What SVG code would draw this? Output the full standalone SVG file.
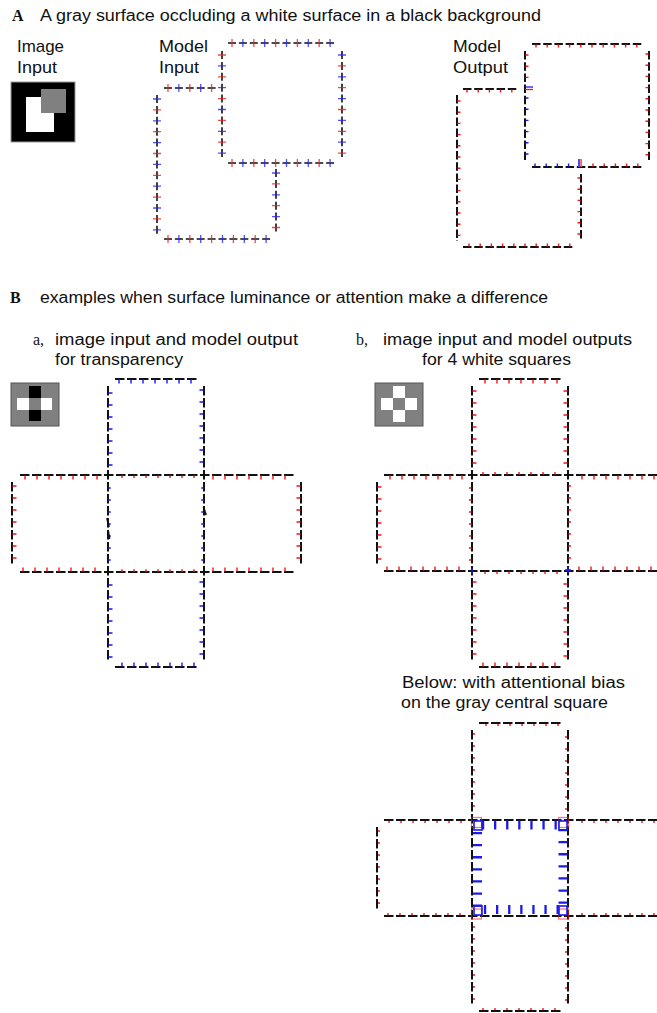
<svg xmlns="http://www.w3.org/2000/svg" width="657" height="1013" viewBox="0 0 657 1013">
<style>
text{font-family:"Liberation Sans",Arial,sans-serif;fill:#111}
.sf{font-family:"Liberation Serif","Times New Roman",serif}
line{fill:none}
.ka{stroke:#111;stroke-width:1.6;stroke-dasharray:8 2.9}
.ko{stroke:#111;stroke-width:2;stroke-dasharray:8.5 2.7}
.kb{stroke:#111;stroke-width:2;stroke-dasharray:9.5 2.5}
.pr{stroke:#f21c1c;stroke-width:8;stroke-dasharray:1.3 20.5;opacity:.8}
.pb{stroke:#2626f5;stroke-width:8;stroke-dasharray:1.3 20.5;opacity:.8}
.tr{stroke:#f01818;stroke-width:3;stroke-dasharray:1.4 9.8}
.tb{stroke:#1818f0;stroke-width:3;stroke-dasharray:1.4 9.8}
.br{stroke:#f01818;stroke-width:4;stroke-dasharray:1.4 10.6}
.bb{stroke:#1818f0;stroke-width:4;stroke-dasharray:1.4 10.6}
.sr{stroke:#f01818;stroke-width:2.5;stroke-dasharray:1.4 10.6}
.sb{stroke:#1818f0;stroke-width:2.5;stroke-dasharray:1.4 10.6}
.dr{stroke:#f01818;stroke-width:2;stroke-dasharray:1.4 10.6}
.bg{stroke:#1a1aee;stroke-width:9;stroke-dasharray:2.3 9.8}
.bx{fill:none;stroke:#1a1aee;stroke-width:1.6}
.rx{fill:none;stroke:#f01818;stroke-width:1.2;opacity:.6}
</style>
<rect x="0" y="0" width="657" height="1013" fill="#fff"/>

<g id="titles">
<text class="sf" x="12" y="21" font-size="16" font-weight="bold">A</text>
<text x="40" y="21" font-size="16" textLength="501" lengthAdjust="spacingAndGlyphs">A gray surface occluding a white surface in a black background</text>
<text x="17" y="52" font-size="17" textLength="47" lengthAdjust="spacingAndGlyphs">Image</text>
<text x="17" y="73" font-size="17" textLength="40" lengthAdjust="spacingAndGlyphs">Input</text>
<text x="159" y="52" font-size="17" textLength="49" lengthAdjust="spacingAndGlyphs">Model</text>
<text x="159" y="73" font-size="17" textLength="40" lengthAdjust="spacingAndGlyphs">Input</text>
<text x="453" y="52" font-size="17" textLength="48" lengthAdjust="spacingAndGlyphs">Model</text>
<text x="453" y="73" font-size="17" textLength="55" lengthAdjust="spacingAndGlyphs">Output</text>
<text class="sf" x="10" y="303" font-size="16" font-weight="bold">B</text>
<text x="40" y="303" font-size="16" textLength="508" lengthAdjust="spacingAndGlyphs">examples when surface luminance or attention make a difference</text>
<text class="sf" x="33" y="345" font-size="16">a,</text>
<text x="55" y="345" font-size="16" textLength="243" lengthAdjust="spacingAndGlyphs">image input and model output</text>
<text x="55" y="365" font-size="16" textLength="128" lengthAdjust="spacingAndGlyphs">for transparency</text>
<text class="sf" x="356" y="345" font-size="16">b,</text>
<text x="383" y="345" font-size="16" textLength="249" lengthAdjust="spacingAndGlyphs">image input and model outputs</text>
<text x="422" y="365" font-size="16" textLength="149" lengthAdjust="spacingAndGlyphs">for 4 white squares</text>
<text x="402" y="688" font-size="16" textLength="223" lengthAdjust="spacingAndGlyphs">Below: with attentional bias</text>
<text x="401" y="708" font-size="16" textLength="207" lengthAdjust="spacingAndGlyphs">on the gray central square</text>
</g>

<g id="imageA">
<rect x="11" y="82" width="64" height="60" fill="#000" stroke="#999" stroke-width="1"/>
<rect x="26" y="97" width="28" height="35" fill="#fff"/>
<rect x="41" y="89" width="25" height="24" fill="#808080"/>
</g>

<g id="modelInputA">
<line class="ka" x1="228" y1="43" x2="334.2" y2="43"/>
<line class="pr" x1="231.35" y1="43" x2="334" y2="43"/>
<line class="pb" x1="242.25" y1="43" x2="334" y2="43"/>
<line class="ka" x1="228" y1="163" x2="334.2" y2="163"/>
<line class="pr" x1="231.35" y1="163" x2="334" y2="163"/>
<line class="pb" x1="242.25" y1="163" x2="334" y2="163"/>
<line class="ka" x1="222" y1="51" x2="222" y2="157.1"/>
<line class="pr" x1="222" y1="54.35" x2="222" y2="157"/>
<line class="pb" x1="222" y1="65.25" x2="222" y2="157"/>
<line class="ka" x1="342" y1="51" x2="342" y2="157.1"/>
<line class="pb" x1="342" y1="54.35" x2="342" y2="157"/>
<line class="pr" x1="342" y1="65.25" x2="342" y2="157"/>
<line class="ka" x1="164" y1="88" x2="215.6" y2="88"/>
<line class="pr" x1="167.35" y1="88" x2="215" y2="88"/>
<line class="pb" x1="178.25" y1="88" x2="215" y2="88"/>
<line class="ka" x1="157" y1="95" x2="157" y2="233.8"/>
<line class="pb" x1="157" y1="98.35" x2="157" y2="233"/>
<line class="pr" x1="157" y1="109.25" x2="157" y2="233"/>
<line class="ka" x1="276" y1="169" x2="276" y2="231.5"/>
<line class="pb" x1="276" y1="172.35" x2="276" y2="231"/>
<line class="pr" x1="276" y1="183.25" x2="276" y2="231"/>
<line class="ka" x1="164" y1="239" x2="270.1" y2="239"/>
<line class="pr" x1="167.35" y1="239" x2="270" y2="239"/>
<line class="pb" x1="178.25" y1="239" x2="270" y2="239"/>
</g>

<g id="modelOutputA">
<line class="ko" x1="532" y1="44" x2="642" y2="44"/>
<line class="tr" x1="535.3" y1="46" x2="642" y2="46"/>
<line class="ko" x1="525" y1="51" x2="525" y2="160"/>
<line class="tr" x1="527" y1="54.3" x2="527" y2="80"/>
<line x1="525" y1="87" x2="533" y2="87" stroke="#1818f0" stroke-width="1.3"/>
<line x1="525" y1="89.5" x2="533" y2="89.5" stroke="#f01818" stroke-width="1.3"/>
<line class="tb" x1="527" y1="97.3" x2="527" y2="160"/>
<line class="ko" x1="649" y1="51" x2="649" y2="160"/>
<line class="tr" x1="647" y1="53.3" x2="647" y2="160"/>
<line class="ko" x1="532" y1="167" x2="642" y2="167"/>
<line class="tb" x1="534.3" y1="165" x2="572" y2="165"/>
<rect x="578" y="159" width="2" height="8" fill="#4a4af5"/>
<rect x="580.3" y="159" width="1.6" height="8" fill="#f05050"/>
<line class="tr" x1="592.3" y1="165" x2="642" y2="165"/>
<line class="ko" x1="463" y1="89" x2="517" y2="89"/>
<line class="tr" x1="466.3" y1="91" x2="517" y2="91"/>
<line class="ko" x1="457" y1="95" x2="457" y2="241"/>
<line class="tr" x1="459" y1="100.3" x2="459" y2="241"/>
<line class="ko" x1="581" y1="174" x2="581" y2="241"/>
<line class="tr" x1="579" y1="177.3" x2="579" y2="241"/>
<line class="ko" x1="463" y1="247" x2="575" y2="247"/>
<line class="tr" x1="468.3" y1="245" x2="575" y2="245"/>
</g>

<g id="imageBa">
<rect x="11" y="383" width="48" height="43" fill="#808080" stroke="#555" stroke-width="1"/>
<rect x="29" y="386" width="12" height="35" fill="#000"/>
<rect x="17" y="398" width="35" height="12" fill="#fff"/>
<rect x="29" y="398" width="12" height="12" fill="#808080"/>
</g>

<g id="crossBa">
<line class="kb" x1="108" y1="386" x2="108" y2="661"/>
<line class="kb" x1="204" y1="386" x2="204" y2="661"/>
<line class="kb" x1="20" y1="475" x2="294" y2="475"/>
<line class="kb" x1="20" y1="572" x2="294" y2="572"/>
<line class="kb" x1="115" y1="379" x2="198" y2="379"/>
<line class="kb" x1="115" y1="667" x2="198" y2="667"/>
<line class="kb" x1="12" y1="482" x2="12" y2="565"/>
<line class="kb" x1="301" y1="482" x2="301" y2="565"/>
<line class="bb" x1="118.3" y1="381.5" x2="198" y2="381.5"/>
<line class="bb" x1="110.5" y1="392.3" x2="110.5" y2="466"/>
<line class="bb" x1="201.5" y1="389.3" x2="201.5" y2="466"/>
<line class="br" x1="24.3" y1="477.5" x2="100" y2="477.5"/>
<line class="br" x1="14.5" y1="485.3" x2="14.5" y2="562"/>
<line class="br" x1="22.3" y1="569.5" x2="100" y2="569.5"/>
<line class="br" x1="212.3" y1="477.5" x2="295" y2="477.5"/>
<line class="br" x1="298.5" y1="485.3" x2="298.5" y2="562"/>
<line class="br" x1="212.3" y1="569.5" x2="295" y2="569.5"/>
<line class="sr" x1="121.3" y1="476.8" x2="198" y2="476.8"/>
<line class="sb" x1="109.5" y1="487.3" x2="109.5" y2="566"/>
<line class="sb" x1="202.5" y1="487.3" x2="202.5" y2="566"/>
<line class="sr" x1="121.3" y1="570.5" x2="198" y2="570.5"/>
<line class="bb" x1="110.5" y1="584.3" x2="110.5" y2="661"/>
<line class="bb" x1="201.5" y1="581.3" x2="201.5" y2="661"/>
<line class="bb" x1="121.3" y1="664.5" x2="198" y2="664.5"/>
<line x1="107" y1="518" x2="109" y2="527" stroke="#111" stroke-width="1.8"/>
<line x1="108" y1="530" x2="109.5" y2="539" stroke="#111" stroke-width="1.8"/>
<line x1="203.5" y1="507" x2="206" y2="515" stroke="#111" stroke-width="1.8"/>
</g>

<g id="imageBb">
<rect x="375" y="383" width="48" height="43" fill="#808080" stroke="#555" stroke-width="1"/>
<rect x="393" y="386" width="12" height="12" fill="#fff"/>
<rect x="381" y="398" width="12" height="12" fill="#fff"/>
<rect x="405" y="398" width="12" height="12" fill="#fff"/>
<rect x="393" y="410" width="12" height="12" fill="#fff"/>
</g>

<g id="crossBb">
<line class="kb" x1="472" y1="386" x2="472" y2="661"/>
<line class="kb" x1="568" y1="386" x2="568" y2="661"/>
<line class="kb" x1="384" y1="475" x2="657" y2="475"/>
<line class="kb" x1="384" y1="571" x2="657" y2="571"/>
<line class="kb" x1="479" y1="379" x2="562" y2="379"/>
<line class="kb" x1="479" y1="667" x2="562" y2="667"/>
<line class="kb" x1="377" y1="482" x2="377" y2="565"/>
<line class="br" x1="484.3" y1="381.5" x2="562" y2="381.5"/>
<line class="br" x1="474.5" y1="390.3" x2="474.5" y2="466"/>
<line class="br" x1="565.5" y1="390.3" x2="565.5" y2="466"/>
<line class="br" x1="389.3" y1="477.5" x2="465" y2="477.5"/>
<line class="br" x1="379.5" y1="486.3" x2="379.5" y2="562"/>
<line class="br" x1="386.3" y1="568.5" x2="465" y2="568.5"/>
<line class="sr" x1="482.3" y1="473.2" x2="562" y2="473.2"/>
<line class="sr" x1="470.2" y1="487.3" x2="470.2" y2="565"/>
<line class="sr" x1="569.8" y1="485.3" x2="569.8" y2="565"/>
<line class="br" x1="581.3" y1="477.5" x2="657" y2="477.5"/>
<line class="br" x1="578.3" y1="568.5" x2="657" y2="568.5"/>
<line class="sr" x1="484.3" y1="572.8" x2="562" y2="572.8"/>
<line class="br" x1="474.5" y1="581.3" x2="474.5" y2="661"/>
<line class="br" x1="565.5" y1="583.3" x2="565.5" y2="661"/>
<line class="br" x1="482.3" y1="664.5" x2="562" y2="664.5"/>
<line x1="472" y1="568" x2="472" y2="574" stroke="#1818f0" stroke-width="1.5"/>
<line x1="565" y1="570" x2="571" y2="570" stroke="#1818f0" stroke-width="1.5"/>
<line x1="568" y1="567" x2="568" y2="573" stroke="#1818f0" stroke-width="1.5"/>
</g>

<g id="crossAttention">
<line class="kb" x1="472" y1="730" x2="472" y2="1004"/>
<line class="kb" x1="568" y1="730" x2="568" y2="1004"/>
<line class="kb" x1="384" y1="820" x2="657" y2="820"/>
<line class="kb" x1="384" y1="916" x2="657" y2="916"/>
<line class="kb" x1="479" y1="723" x2="562" y2="723"/>
<line class="kb" x1="479" y1="1011" x2="562" y2="1011"/>
<line class="kb" x1="377" y1="827" x2="377" y2="910"/>
<line class="dr" x1="485.3" y1="725" x2="562" y2="725"/>
<line class="dr" x1="474" y1="733.3" x2="474" y2="810"/>
<line class="dr" x1="566" y1="736.3" x2="566" y2="810"/>
<line class="dr" x1="388.3" y1="822" x2="465" y2="822"/>
<line class="dr" x1="379" y1="830.3" x2="379" y2="906"/>
<line class="dr" x1="387.3" y1="914" x2="465" y2="914"/>
<line class="dr" x1="581.3" y1="822" x2="657" y2="822"/>
<line class="dr" x1="581.3" y1="914" x2="657" y2="914"/>
<line class="dr" x1="474" y1="926.3" x2="474" y2="1004"/>
<line class="dr" x1="566" y1="927.3" x2="566" y2="1004"/>
<line class="dr" x1="482.3" y1="1009" x2="562" y2="1009"/>
<rect class="rx" x="471.5" y="817.5" width="10" height="10"/>
<rect class="rx" x="558.5" y="817.5" width="10" height="10"/>
<rect class="rx" x="471.5" y="909" width="10" height="10"/>
<rect class="rx" x="558.5" y="909" width="10" height="10"/>
<line class="bg" x1="481.9" y1="825" x2="558" y2="825"/>
<line class="bg" x1="483.9" y1="909.5" x2="560" y2="909.5"/>
<line class="bg" x1="477.5" y1="831.9" x2="477.5" y2="908"/>
<line class="bg" x1="563" y1="828.9" x2="563" y2="905"/>
<rect class="bx" x="474" y="821" width="8" height="9"/>
<rect class="bx" x="559" y="821" width="8" height="9"/>
<rect class="bx" x="474" y="906" width="8" height="9"/>
<rect class="bx" x="559" y="906" width="8" height="9"/>
</g>
</svg>
